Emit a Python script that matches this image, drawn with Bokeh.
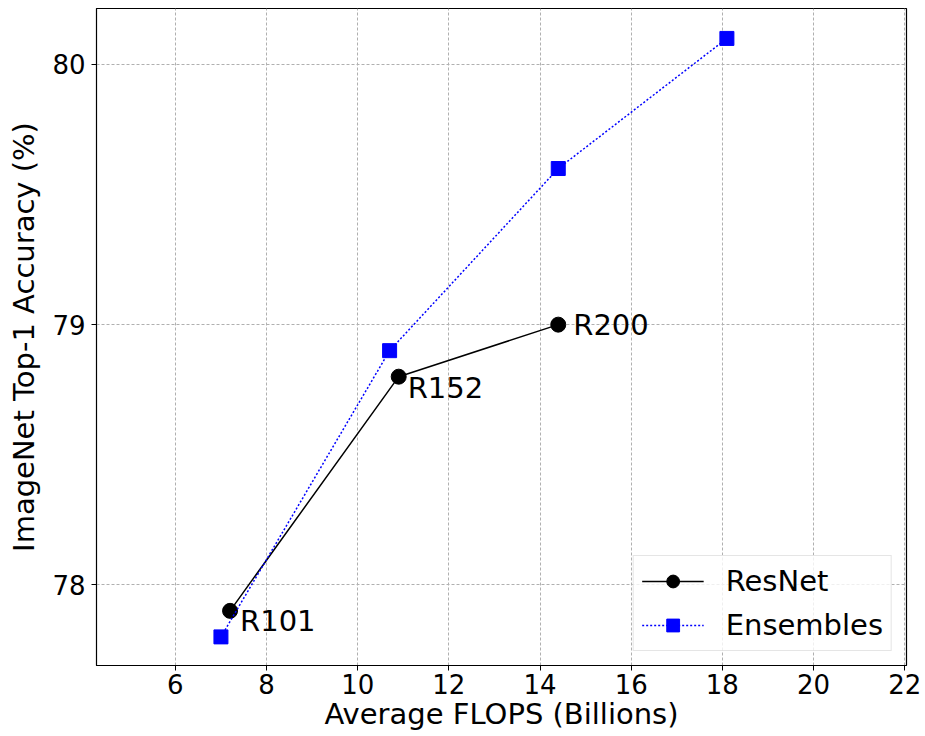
from bokeh.plotting import figure
from bokeh.models import Range1d, FixedTicker, Legend, LegendItem, ColumnDataSource
from bokeh.core.properties import value
from bokeh.embed import file_html
from bokeh.resources import INLINE

resnet_flops = [7.2, 10.9, 14.4]
resnet_acc = [77.9, 78.8, 79.0]
resnet_names = ["R101", "R152", "R200"]
resnet_dx = [10, 9, 15]
resnet_dy = [10, 11, 0]

ens_flops = [7.0, 10.7, 14.4, 18.1]
ens_acc = [77.8, 78.9, 79.6, 80.1]

x_ticks = [6, 8, 10, 12, 14, 16, 18, 20, 22]
y_ticks = [78, 79, 80]

FONT = "DejaVu Sans"

p = figure(width=925, height=736, output_backend="svg", toolbar_location=None,
           x_range=Range1d(4.27, 22.04), y_range=Range1d(77.69, 80.215),
           min_border_left=96, min_border_right=19, min_border_top=8, min_border_bottom=71)

p.background_fill_color = "white"
p.border_fill_color = "white"
p.outline_line_color = "black"
p.outline_line_width = 1.2

for ax in (p.xaxis[0], p.yaxis[0]):
    ax.major_label_text_font = FONT
    ax.major_label_text_font_size = "26px"
    ax.major_label_text_color = "black"
    ax.axis_label_text_font = FONT
    ax.axis_label_text_font_size = "29px"
    ax.axis_label_text_font_style = "normal"
    ax.axis_label_text_color = "black"
    ax.minor_tick_line_color = None
    ax.major_tick_out = 5
    ax.major_tick_in = 0
    ax.axis_line_color = "black"

p.xaxis.ticker = FixedTicker(ticks=x_ticks)
p.yaxis.ticker = FixedTicker(ticks=y_ticks)
p.xaxis.axis_label = "Average FLOPS (Billions)"
p.yaxis.axis_label = "ImageNet Top-1 Accuracy (%)"
p.xaxis.axis_label_standoff = 0
p.yaxis.axis_label_standoff = 8
p.xaxis.major_label_standoff = 3
p.yaxis.major_label_standoff = 6

for g in (p.xgrid[0], p.ygrid[0]):
    g.grid_line_color = "#b0b0b0"
    g.grid_line_dash = "3 2"
    g.grid_line_width = 1

r_line = p.line(resnet_flops, resnet_acc, line_color="black", line_width=1.5)
r_pts = p.scatter(resnet_flops, resnet_acc, marker="circle", size=15,
                  fill_color="black", line_color="black")
e_line = p.line(ens_flops, ens_acc, line_color="blue", line_width=1.5, line_dash="2 2")
e_pts = p.scatter(ens_flops, ens_acc, marker="square", size=14,
                  fill_color="blue", line_color="blue")

src = ColumnDataSource(dict(x=resnet_flops, y=resnet_acc, t=resnet_names,
                            dx=resnet_dx, dy=resnet_dy))
p.text(x="x", y="y", text="t", source=src, x_offset="dx", y_offset="dy",
       text_font=value(FONT), text_font_size="29px", text_color="black",
       text_baseline="middle", text_align="left")

legend = Legend(items=[
    LegendItem(label="ResNet", renderers=[r_line, r_pts]),
    LegendItem(label="Ensembles", renderers=[e_line, e_pts]),
], location="bottom_right")
legend.label_text_font = FONT
legend.label_text_font_size = "29px"
legend.label_text_color = "black"
legend.glyph_width = 62
legend.glyph_height = 32
legend.label_standoff = 22
legend.spacing = 10
legend.padding = 8
legend.margin = 14
legend.border_line_color = "#cccccc"
legend.border_line_width = 1
legend.background_fill_alpha = 0.8
p.add_layout(legend)

open("out.html", "w").write(file_html(p, INLINE))
